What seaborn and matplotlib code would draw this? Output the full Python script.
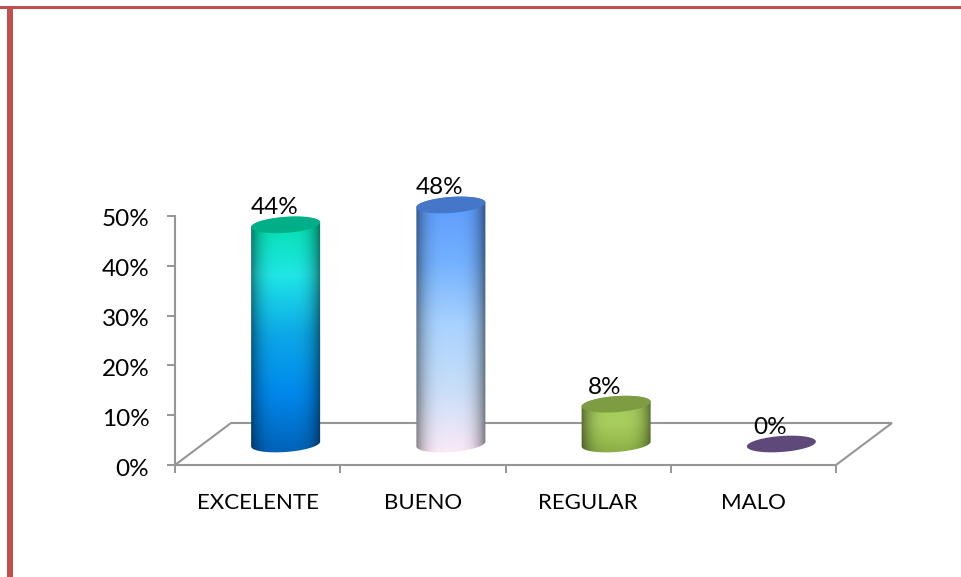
import numpy as np
import matplotlib
matplotlib.use("Agg")
import matplotlib.pyplot as plt
import seaborn as sns
from matplotlib.colors import to_rgb
from matplotlib.patches import PathPatch, Rectangle
from matplotlib.path import Path
from matplotlib.transforms import IdentityTransform, Affine2D

categories = ["EXCELENTE", "BUENO", "REGULAR", "MALO"]
values = [44, 48, 8, 0]
value_labels = ["44%", "48%", "8%", "0%"]
y_ticks = [0, 10, 20, 30, 40, 50]

# colours, top to bottom of each cylinder
body_colors = [
    ["#00DFA8", "#20E6E6", "#0CA8E8", "#0088EC", "#0062B8"],
    ["#5C9AFF", "#72B0FF", "#A8D2FF", "#C8DEF8", "#FBEAF8"],
    ["#8FB24C", "#A6CC5C", "#A8CE5E", "#9CC052", "#8AAC45"],
    ["#5F497A", "#5F497A", "#5F497A", "#5F497A", "#5F497A"],
]
cap_colors = ["#00AE88", "#4576C8", "#7E9C42", "#5F497A"]

W, H = 961, 577
GREY = "#969696"
RED = "#C0504D"
DX, DY = 56, 42  # depth of the floor in pixels
A, B, SHEAR = 34.5, 8, 0.07

sns.set_theme(style="white")
plt.rcParams["font.family"] = ["Lato", "DejaVu Sans"]

fig = plt.figure(figsize=(W / 100, H / 100), dpi=100, facecolor="white")
ax = fig.add_axes([175 / W, (H - 465) / H, 661 / W, 249 / H])
ax.patch.set_alpha(0)

sns.barplot(x=categories, y=values, width=0.418, color="white", ax=ax)
ax.set_xlim(-0.5, 3.5)
ax.set_ylim(0, 50)
ax.set_xlabel("")
ax.set_ylabel("")

# axes
ax.spines["top"].set_visible(False)
ax.spines["right"].set_visible(False)
for s in ["left", "bottom"]:
    ax.spines[s].set_color(GREY)
    ax.spines[s].set_linewidth(1.5)
ax.set_yticks(y_ticks)
ax.set_yticklabels([f"{t}%" for t in y_ticks], fontsize=17.5, color="black")
ax.tick_params(axis="y", left=True, length=6, width=1.4, color=GREY, pad=12.5)
for lbl in ax.get_yticklabels():
    lbl.set_transform(lbl.get_transform() + Affine2D().translate(0, -2))
ax.set_xticks(np.arange(-0.5, 4, 1))
ax.set_xticklabels([])
ax.set_xticks(range(len(categories)), categories, minor=True, fontsize=16, color="black")
ax.tick_params(axis="x", which="major", bottom=True, length=6, width=1.4, color=GREY)
ax.tick_params(axis="x", which="minor", bottom=False, length=0, pad=20)

# floor
x0, y0 = ax.transData.transform((-0.5, 0))
x1, _ = ax.transData.transform((3.5, 0))
floor = Path([(x0, y0), (x0 + DX, y0 + DY), (x1 + DX, y0 + DY), (x1, y0)])
ax.add_patch(PathPatch(floor, fill=False, ec=GREY, lw=1.5, transform=IdentityTransform(),
                       clip_on=False, zorder=1))


def ellipse_xy(cx, cy, t):
    return cx + A * np.cos(t), cy + B * np.sin(t) + SHEAR * A * np.cos(t)


# cylinders take their place and height from the seaborn bars
for i, bar in enumerate(list(ax.containers[0])):
    bar.set_visible(False)
    bx = bar.get_x() + bar.get_width() / 2
    cx, cy_low = ax.transData.transform((bx, 0))
    _, cy_top = ax.transData.transform((bx, bar.get_height()))
    cx += DX / 2
    cy_low += DY / 2
    cy_top += DY / 2

    if bar.get_height() > 0:
        t_low = np.linspace(np.pi, 2 * np.pi, 60)
        t_top = np.linspace(0, np.pi, 60)
        xs = np.r_[ellipse_xy(cx, cy_low, t_low)[0], ellipse_xy(cx, cy_top, t_top)[0]]
        ys = np.r_[ellipse_xy(cx, cy_low, t_low)[1], ellipse_xy(cx, cy_top, t_top)[1]]
        body = PathPatch(Path(np.c_[xs, ys]), transform=IdentityTransform(), fc="none", ec="none")
        ax.add_patch(body)

        # vertical colour ramp, darkened toward the sides
        stops = np.array([to_rgb(c) for c in body_colors[i]])
        rows = 200
        pos = np.linspace(0, 1, rows)
        ramp = np.stack([np.interp(pos, np.linspace(0, 1, len(stops)), stops[:, k]) for k in range(3)], axis=1)
        u = np.linspace(-1, 1, 140)
        shade = 1 - 0.5 * np.abs(u) ** 3.5
        img = ramp[:, None, :] * shade[None, :, None]
        extent = (cx - A - 1, cx + A + 1, ys.min() - 1, ys.max() + 1)
        im = ax.imshow(img, extent=extent, origin="upper", aspect="auto",
                       transform=IdentityTransform(), zorder=3)
        im.set_clip_box(fig.bbox)
        im.set_clip_path(body)

    t = np.linspace(0, 2 * np.pi, 120)
    ex, ey = ellipse_xy(cx, cy_top, t)
    ax.add_patch(PathPatch(Path(np.c_[ex, ey]), fc=cap_colors[i], ec="none",
                           transform=IdentityTransform(), clip_on=False, zorder=4))

    ax.annotate(value_labels[i], (bx, bar.get_height()), xytext=(DX / 2 - 11.5, DY / 2 + 17),
                textcoords="offset pixels", ha="center", va="center", fontsize=17.5,
                color="black", annotation_clip=False, zorder=5)

ax.set_xlim(-0.5, 3.5)
ax.set_ylim(0, 50)

# page border
fig.add_artist(Rectangle((0, (H - 9) / H), 1, 3 / H, transform=fig.transFigure, fc=RED, ec="none"))
fig.add_artist(Rectangle((7 / W, 0), 5.5 / W, (H - 6) / H, transform=fig.transFigure, fc=RED, ec="none"))

fig.savefig("out.png", dpi=100, facecolor="white")
